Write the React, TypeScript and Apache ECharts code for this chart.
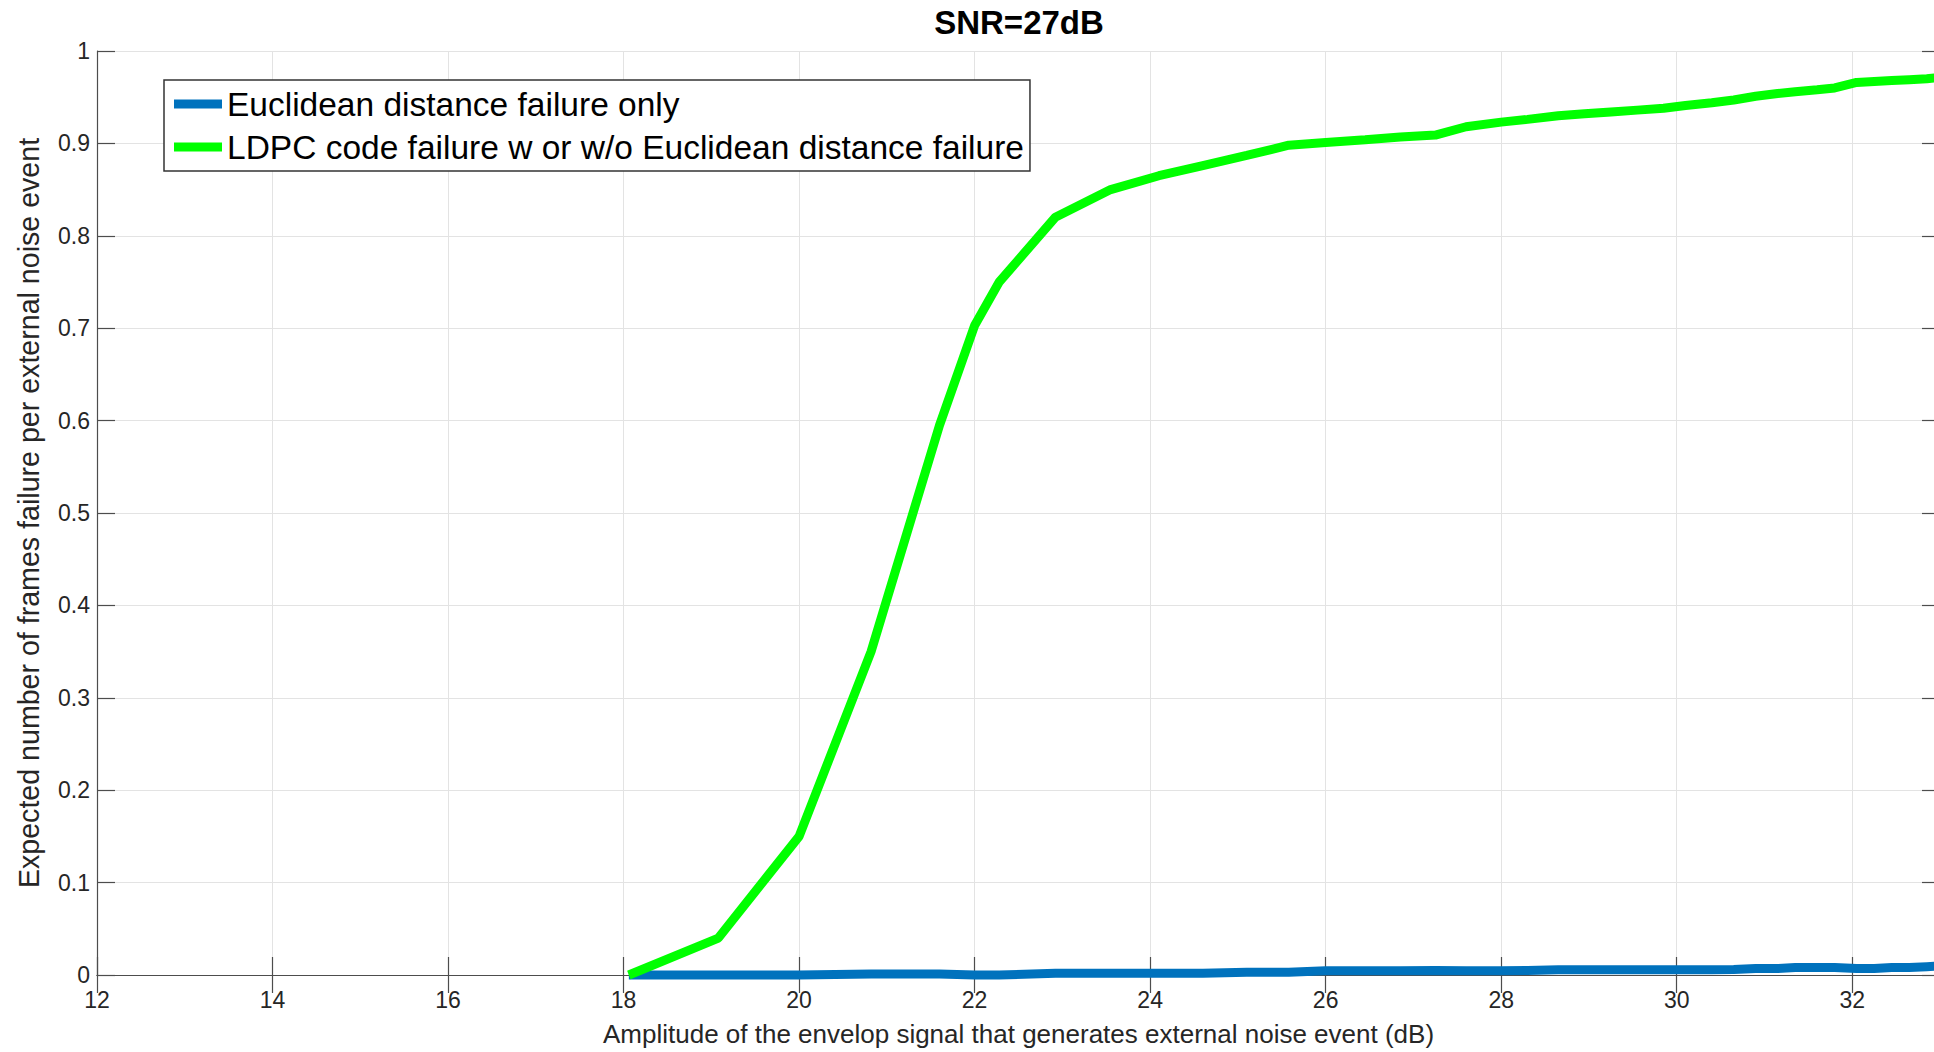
import React, { useEffect, useRef } from "react";
import * as echarts from "echarts";

// Envelope amplitude of the external noise event (dB)
const amplitudeDb = [
  18.06, 19.08, 20.0, 20.82, 21.6, 22.0, 22.28, 22.92, 23.55, 24.1, 24.6, 25.1,
  25.58, 26.0, 26.45, 26.85, 27.25, 27.6, 28.0, 28.3, 28.65, 28.95, 29.25, 29.55,
  29.85, 30.1, 30.4, 30.65, 30.9, 31.15, 31.35, 31.6, 31.8, 32.05, 32.25, 32.45,
  32.65, 32.85, 33.05,
];

// Expected frame failures per event: Euclidean distance failure only
const euclideanOnly = [
  0, 0, 0, 0.001, 0.001, 0, 0, 0.002, 0.002, 0.002, 0.002, 0.003,
  0.003, 0.0045, 0.0045, 0.0045, 0.005, 0.0045, 0.0045, 0.005, 0.0058, 0.0058, 0.0058, 0.0058,
  0.0058, 0.0058, 0.0058, 0.006, 0.007, 0.007, 0.008, 0.008, 0.008, 0.007, 0.007, 0.008,
  0.008, 0.009, 0.01,
];

// Expected frame failures per event: LDPC code failure with or without Euclidean failure
const ldpcFailure = [
  0, 0.04, 0.15, 0.35, 0.595, 0.703, 0.75, 0.82, 0.85, 0.865, 0.876, 0.887,
  0.898, 0.901, 0.904, 0.907, 0.909, 0.918, 0.923, 0.926, 0.93, 0.932, 0.934, 0.936,
  0.938, 0.941, 0.944, 0.947, 0.951, 0.954, 0.956, 0.958, 0.96, 0.966, 0.967, 0.968,
  0.969, 0.97, 0.972,
];

const seriesNames = [
  "Euclidean distance failure only",
  "LDPC code failure w or w/o Euclidean distance failure",
];

const xMin = 12;
const xMax = 33;
const xStep = 2;
const yMin = 0;
const yMax = 1;
const yStep = 0.1;

const FONT = '"Liberation Sans", Arial, Helvetica, sans-serif';
const AXIS_COLOR = "#4d4d4d";
const TEXT_COLOR = "#262626";
const GRID_COLOR = "#e3e3e3";

export default function App() {
  const ref = useRef<HTMLDivElement>(null);

  useEffect(() => {
    if (!ref.current) return;
    const chart = echarts.init(ref.current, null, { renderer: "svg" });

    const tickLabel = (v: number) => String(Math.round(v * 10) / 10);

    const baseX = {
      type: "value" as const,
      min: xMin,
      max: xMax,
      interval: xStep,
      axisLine: { show: true, lineStyle: { color: AXIS_COLOR, width: 1.2 } },
      axisTick: { show: true, inside: true, length: 18, lineStyle: { color: AXIS_COLOR, width: 1.2 } },
    };
    const baseY = {
      type: "value" as const,
      min: yMin,
      max: yMax,
      interval: yStep,
      axisLine: { show: true, lineStyle: { color: AXIS_COLOR, width: 1.2 } },
      axisTick: { show: true, inside: true, length: 18, lineStyle: { color: AXIS_COLOR, width: 1.2 } },
    };

    chart.setOption({
      animation: false,
      backgroundColor: "#ffffff",
      graphic: [
        {
          type: "text",
          x: 1019,
          y: 22,
          style: {
            text: "SNR=27dB",
            fontSize: 33,
            fontWeight: "bold",
            fontFamily: FONT,
            fill: "#000000",
            align: "center",
            verticalAlign: "middle",
          },
        },
      ],
      grid: { left: 97, top: 51, right: 20, bottom: 76 },
      legend: {
        left: 164,
        top: 80,
        orient: "vertical",
        data: seriesNames,
        icon: "rect",
        itemWidth: 48,
        itemHeight: 9,
        itemGap: 9,
        itemTextGap: 6,
        padding: [7, 6, 7, 10],
        backgroundColor: "#ffffff",
        borderColor: "#333333",
        borderWidth: 1.5,
        borderRadius: 0,
        textStyle: { fontSize: 33.5, fontFamily: FONT, color: "#000000" },
      },
      xAxis: [
        {
          ...baseX,
          position: "bottom",
          name: "Amplitude of the envelop signal that generates external noise event (dB)",
          nameLocation: "middle",
          nameGap: 46,
          nameTextStyle: { fontSize: 26, fontFamily: FONT, color: TEXT_COLOR },
          axisLabel: {
            fontSize: 23,
            fontFamily: FONT,
            color: TEXT_COLOR,
            margin: 13,
            showMaxLabel: false,
          },
          splitLine: { show: true, lineStyle: { color: GRID_COLOR, width: 1 } },
        },
        {
          ...baseX,
          position: "top",
          axisLabel: { show: false },
          splitLine: { show: false },
        },
      ],
      yAxis: [
        {
          ...baseY,
          position: "left",
          name: "Expected number of frames failure per external noise event",
          nameLocation: "middle",
          nameGap: 54,
          nameTextStyle: { fontSize: 28.6, fontFamily: FONT, color: TEXT_COLOR },
          axisLabel: { fontSize: 23, fontFamily: FONT, color: TEXT_COLOR, margin: 7, formatter: tickLabel },
          splitLine: { show: true, lineStyle: { color: GRID_COLOR, width: 1 } },
        },
        {
          ...baseY,
          position: "right",
          axisLabel: { show: false },
          splitLine: { show: false },
        },
      ],
      series: [
        {
          name: seriesNames[0],
          type: "line",
          xAxisIndex: 0,
          yAxisIndex: 0,
          data: amplitudeDb.map((x, i) => [x, euclideanOnly[i]]),
          showSymbol: false,
          clip: false,
          color: "#0072BD",
          lineStyle: { color: "#0072BD", width: 9 },
        },
        {
          name: seriesNames[1],
          type: "line",
          xAxisIndex: 0,
          yAxisIndex: 0,
          data: amplitudeDb.map((x, i) => [x, ldpcFailure[i]]),
          showSymbol: false,
          clip: false,
          color: "#00FF00",
          lineStyle: { color: "#00FF00", width: 9 },
        },
      ],
    });

    return () => chart.dispose();
  }, []);

  return (
    <div
      style={{
        position: "fixed",
        left: 0,
        top: 0,
        width: 1934,
        height: 1052,
        overflow: "hidden",
        background: "#ffffff",
      }}
    >
      <div ref={ref} style={{ width: 1960, height: 1052 }} />
    </div>
  );
}
